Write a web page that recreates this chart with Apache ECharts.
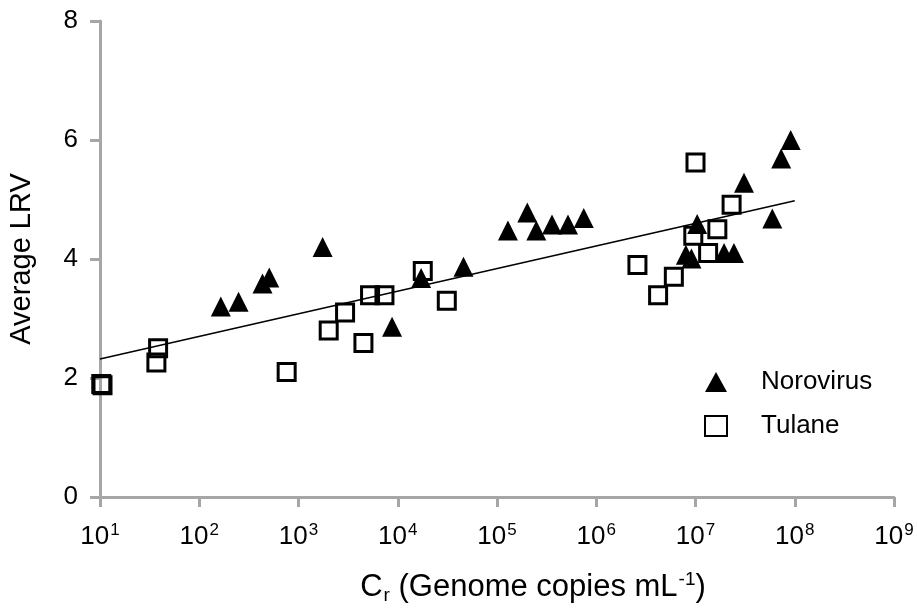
<!DOCTYPE html>
<html>
<head>
<meta charset="utf-8">
<script src="https://cdn.jsdelivr.net/npm/echarts@6/dist/echarts.min.js"></script>
<style>
  html, body { margin: 0; padding: 0; background: #fff; }
  #chart { width: 917px; height: 608px; }
</style>
</head>
<body>
<div id="chart"></div>
<script>
// Norovirus (filled triangles)
var noroX = [165, 249, 434, 507, 1750, 8770, 17190, 46000, 128800, 202000, 249000, 358000, 519000, 748000,
  8.0e6, 9.1e6, 1.04e7, 1.94e7, 2.44e7, 3.08e7, 5.94e7, 7.3e7, 9.1e7];
var noroY = [3.20, 3.28, 3.59, 3.69, 4.20, 2.86, 3.68, 3.87, 4.48, 4.78, 4.48, 4.58, 4.58, 4.69,
  4.07, 4.01, 4.59, 4.10, 4.10, 5.28, 4.68, 5.69, 6.00];
// Tulane (open squares)
var tulaneX = [10.3, 10.6, 37, 38.5, 760, 2015, 2946, 4510, 5260, 7345, 17870, 31200,
  2.6e6, 4.2e6, 6.05e6, 9.5e6, 1.0e7, 1.34e7, 1.66e7, 2.31e7];
var tulaneY = [1.90, 1.88, 2.26, 2.50, 2.10, 2.80, 3.10, 2.59, 3.39, 3.39, 3.80, 3.30,
  3.90, 3.39, 3.70, 4.39, 5.62, 4.10, 4.50, 4.91];
// regression line end points
var fitX = [10, 1e8];
var fitY = [2.32, 4.98];
var yTicks = [0, 2, 4, 6, 8];

function zip(xs, ys) {
  var out = [];
  for (var i = 0; i < xs.length; i++) out.push([xs[i], ys[i]]);
  return out;
}

var font = "'Liberation Sans', Arial, Helvetica, sans-serif";
var axisGrey = "#a6a6a6";

var chart = echarts.init(document.getElementById("chart"));
var option = {
  animation: false,
  textStyle: { fontFamily: font, color: "#000" },
  grid: { left: 100, right: 23, top: 21, bottom: 111, outerBoundsMode: "none", containLabel: false },
  legend: {
    orient: "vertical",
    left: 699,
    top: 364,
    itemWidth: 22,
    itemHeight: 20,
    itemGap: 18,
    textStyle: { fontSize: 26, fontFamily: font, color: "#000", padding: [0, 0, 0, 29] },
    data: ["Norovirus", "Tulane"]
  },
  xAxis: {
    type: "log",
    logBase: 10,
    min: 10,
    max: 1e9,
    interval: 1,
    name: "{n|C}{sub|r}{n| (Genome copies mL}{sup|-1}{n|)}",
    nameLocation: "middle",
    nameGap: 73,
    nameTextStyle: {
      padding: [0, 0, 0, 72],
      rich: {
        n: { fontSize: 31, fontFamily: font, color: "#000" },
        sub: { fontSize: 19, fontFamily: font, color: "#000", padding: [16, 0, 0, 1] },
        sup: { fontSize: 19, fontFamily: font, color: "#000", padding: [0, 0, 15, 1] }
      }
    },
    axisLine: { lineStyle: { color: axisGrey, width: 3 } },
    axisTick: { length: 10, lineStyle: { color: axisGrey, width: 3 } },
    splitLine: { show: false },
    axisLabel: {
      margin: 25,
      formatter: function (v) {
        return "{b|10}{sup|" + Math.round(Math.log10(v)) + "}";
      },
      rich: {
        b: { fontSize: 26, fontFamily: font, color: "#000" },
        sup: { fontSize: 17, fontFamily: font, color: "#000", padding: [0, 0, 13, 1] }
      }
    }
  },
  yAxis: {
    type: "value",
    min: 0,
    max: 8,
    interval: 2,
    name: "Average LRV",
    nameLocation: "middle",
    nameGap: 64,
    nameTextStyle: { fontSize: 29, fontFamily: font, color: "#000" },
    axisLine: { show: true, lineStyle: { color: axisGrey, width: 3 } },
    axisTick: { show: true, length: 10, lineStyle: { color: axisGrey, width: 3 } },
    splitLine: { show: false },
    axisLabel: {
      margin: 22,
      fontSize: 26,
      color: "#000",
      fontFamily: font,
      formatter: function (v) { return yTicks.indexOf(v) >= 0 ? String(v) : ""; }
    }
  },
  series: [
    {
      name: "fit",
      type: "line",
      data: zip(fitX, fitY),
      showSymbol: false,
      symbol: "none",
      lineStyle: { color: "#000", width: 1.6 },
      z: 1
    },
    {
      name: "Norovirus",
      type: "scatter",
      symbol: "triangle",
      symbolSize: 20,
      itemStyle: { color: "#000", opacity: 1 },
      data: zip(noroX, noroY),
      z: 3
    },
    {
      name: "Tulane",
      type: "scatter",
      symbol: "rect",
      symbolSize: 17,
      itemStyle: { color: "transparent", borderColor: "#000", borderWidth: 3, opacity: 1 },
      data: zip(tulaneX, tulaneY),
      z: 2
    }
  ]
};
chart.setOption(option);
window.addEventListener("resize", function () { chart.resize(); });
</script>
</body>
</html>
